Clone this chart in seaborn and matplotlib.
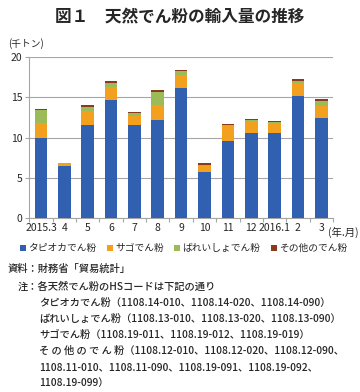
import matplotlib
matplotlib.use("Agg")
import matplotlib.pyplot as plt
import seaborn as sns
import numpy as np
import pandas as pd
from matplotlib.patches import Patch

categories = ["2015.3", "4", "5", "6", "7", "8", "9", "10", "11", "12", "2016.1", "2", "3"]
tapioca = [9.9, 6.5, 11.6, 14.7, 11.55, 12.2, 16.2, 5.7, 9.6, 10.6, 10.6, 15.2, 12.4]
sago = [1.9, 0.3, 1.7, 1.6, 1.15, 1.9, 1.55, 0.8, 1.8, 1.45, 1.25, 1.55, 1.5]
potato = [1.6, 0.02, 0.55, 0.5, 0.35, 1.6, 0.55, 0.1, 0.1, 0.15, 0.1, 0.35, 0.65]
other = [0.1, 0.06, 0.25, 0.25, 0.15, 0.2, 0.15, 0.2, 0.15, 0.15, 0.1, 0.25, 0.25]
series_names = ["タピオカでん粉", "サゴでん粉", "ばれいしょでん粉", "その他のでん粉"]
colors = ["#3160B0", "#F2A01E", "#9BBB59", "#8C3A1E"]

sns.set_theme(style="white")
plt.rcParams['font.family'] = ['Noto Sans CJK JP', 'DejaVu Sans']

fig = plt.figure(figsize=(3.6, 3.92), dpi=100)
ax = fig.add_axes([0.0814, 0.4446, 0.8436, 0.4092])

df = pd.DataFrame({"month": categories, "tapioca": tapioca, "sago": sago,
                   "potato": potato, "other": other})
df["c1"] = df["tapioca"]
df["c2"] = df["c1"] + df["sago"]
df["c3"] = df["c2"] + df["potato"]
df["c4"] = df["c3"] + df["other"]

for col, colr in zip(["c4", "c3", "c2", "c1"], colors[::-1]):
    sns.barplot(data=df, x="month", y=col, order=categories, color=colr,
                saturation=1, width=0.54, edgecolor="none", linewidth=0, ax=ax, zorder=3)

ax.set_ylim(0, 20)
ax.set_xlim(-0.5, len(categories) - 0.5)
ax.set_yticks([0, 5, 10, 15, 20])
ax.yaxis.grid(True, color="#A6A6A6", linewidth=0.8, zorder=0)
ax.set_axisbelow(True)
ax.set_xlabel("")
ax.set_ylabel("")
for s in ["top", "right"]:
    ax.spines[s].set_visible(False)
for s in ["left", "bottom"]:
    ax.spines[s].set_color("#A6A6A6")
    ax.spines[s].set_linewidth(0.8)
ax.tick_params(axis="y", left=True, length=3, width=0.8, color="#A6A6A6",
               labelsize=7.5, pad=2)
ax.tick_params(axis="x", which="major", length=0, labelsize=7.5, pad=4)
ax.set_xticks(np.arange(-0.5, len(categories), 1.0), minor=True)
ax.tick_params(axis="x", which="minor", bottom=True, length=3, width=0.8, color="#A6A6A6")

fig.text(0.5, 0.958, "図１　天然でん粉の輸入量の推移", ha="center", va="center",
         fontsize=12, fontweight="bold")
fig.text(0.022, 0.888, "(千トン)", ha="left", va="center", fontsize=7)
fig.text(0.91, 0.408, "(年.月)", ha="left", va="center", fontsize=7.5)

handles = [Patch(facecolor=c, edgecolor="none") for c in colors]
fig.legend(handles, series_names, loc="center", bbox_to_anchor=(0.51, 0.367), ncol=4,
           frameon=False, fontsize=7, handlelength=0.6, handleheight=0.6,
           handletextpad=0.2, columnspacing=1.1, borderpad=0)

notes = [
    (0.022, 0.315, "資料：財務省「貿易統計」"),
    (0.05, 0.268, "注：各天然でん粉のHSコードは下記の通り"),
    (0.108, 0.227, "タピオカでん粉（1108.14-010、1108.14-020、1108.14-090）"),
    (0.108, 0.186, "ばれいしょでん粉（1108.13-010、1108.13-020、1108.13-090）"),
    (0.108, 0.145, "サゴでん粉（1108.19-011、1108.19-012、1108.19-019）"),
    (0.108, 0.104, "そ の 他 の で ん 粉（1108.12-010、1108.12-020、1108.12-090、"),
    (0.108, 0.064, "1108.11-010、1108.11-090、1108.19-091、1108.19-092、"),
    (0.108, 0.023, "1108.19-099）"),
]
for x, y, t in notes:
    fig.text(x, y, t, ha="left", va="center", fontsize=7.4, fontweight="medium")

fig.savefig("out.png", dpi=100)
